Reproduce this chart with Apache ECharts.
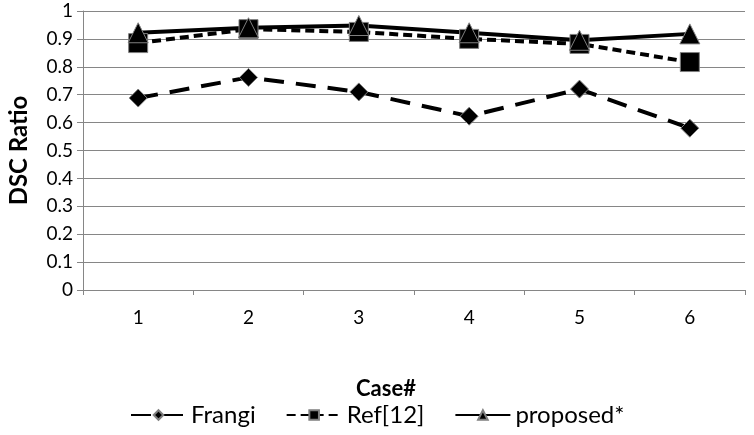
<!DOCTYPE html>
<html>
<head>
<meta charset="utf-8">
<script src="https://cdn.jsdelivr.net/npm/echarts@6/dist/echarts.min.js"></script>
<style>
  html, body { margin: 0; padding: 0; background: #fff; }
  #chart { width: 754px; height: 435px; }
</style>
</head>
<body>
<div id="chart"></div>
<script>
// data
var cases = ['1', '2', '3', '4', '5', '6'];
var frangi = [0.688, 0.762, 0.71, 0.623, 0.72, 0.58];
var ref12 = [0.885, 0.935, 0.925, 0.9, 0.882, 0.817];
var proposed = [0.922, 0.94, 0.948, 0.922, 0.895, 0.918];
var yTicks = [0, 0.1, 0.2, 0.3, 0.4, 0.5, 0.6, 0.7, 0.8, 0.9, 1];

var font = 'Lato, "Open Sans", sans-serif';
var gridGray = '#868686';

var chart = echarts.init(document.getElementById('chart'));

function mkSeries(name, data, symbol, size, dash) {
    return {
        name: name,
        type: 'line',
        data: data,
        symbol: symbol,
        symbolSize: size,
        showAllSymbol: true,
        animation: false,
        lineStyle: { color: '#000', width: 4, type: dash },
        itemStyle: { color: '#000', borderColor: '#7f7f7f', borderWidth: 1 },
        emphasis: { disabled: true }
    };
}

var option = {
    animation: false,
    textStyle: { fontFamily: font },
    grid: { left: 83, right: 9, top: 11, bottom: 145, containLabel: false, outerBoundsMode: 'none' },
    legend: {
        bottom: 3,
        left: 125,
        itemWidth: 55,
        itemHeight: 12,
        itemGap: 30,
        textStyle: { fontSize: 24, color: '#000', fontFamily: font },
        data: ['Frangi', 'Ref[12]', 'proposed*']
    },
    xAxis: {
        type: 'category',
        data: cases,
        boundaryGap: true,
        name: 'Case#',
        nameLocation: 'middle',
        nameGap: 88,
        nameTextStyle: { fontSize: 22, fontWeight: 'bold', color: '#000', padding: [0, 56, 0, 0] },
        axisLine: { lineStyle: { color: gridGray, width: 1 } },
        axisTick: { show: true, length: 5, lineStyle: { color: gridGray } },
        axisLabel: { fontSize: 19, color: '#000', margin: 18 },
        splitLine: { show: false }
    },
    yAxis: {
        type: 'value',
        min: yTicks[0],
        max: yTicks[yTicks.length - 1],
        interval: 0.1,
        name: 'DSC Ratio',
        nameLocation: 'middle',
        nameGap: 52,
        nameTextStyle: { fontSize: 24, fontWeight: 'bold', color: '#000' },
        axisLine: { show: true, lineStyle: { color: gridGray, width: 1 } },
        axisTick: { show: true, length: 6, lineStyle: { color: gridGray } },
        axisLabel: {
            fontSize: 19, color: '#000', margin: 10,
            formatter: function (v) { return String(Math.round(v * 10) / 10); }
        },
        splitLine: { show: true, lineStyle: { color: gridGray, width: 1 } }
    },
    series: [
        mkSeries('Frangi', frangi, 'diamond', 18, [20, 12]),
        mkSeries('Ref[12]', ref12, 'rect', 19, [9, 5]),
        mkSeries('proposed*', proposed, 'triangle', 20, 'solid')
    ]
};

chart.setOption(option);
window.onresize = function () {
    chart.resize();
};
</script>
</body>
</html>
